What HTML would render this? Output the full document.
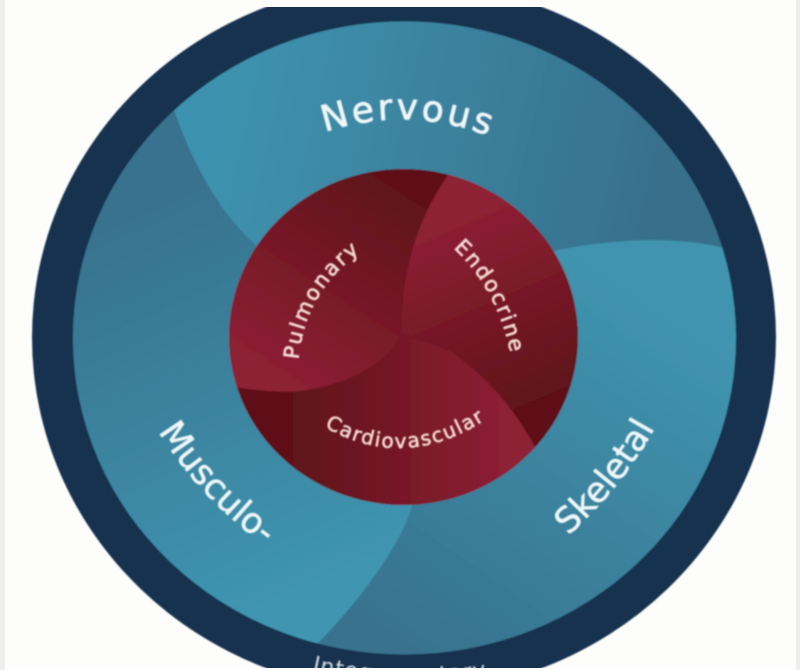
<!DOCTYPE html>
<html><head><meta charset="utf-8"><style>html,body{margin:0;padding:0;background:#fdfdfc;width:800px;height:670px;overflow:hidden}svg{display:block}</style></head>
<body>
<svg width="800" height="670" viewBox="0 0 800 670" xmlns="http://www.w3.org/2000/svg">
<defs>
<clipPath id="frame"><rect x="0" y="7" width="800" height="661"/></clipPath>
<clipPath id="redc"><ellipse cx="403.500" cy="337" rx="174.500" ry="168"/></clipPath>
<clipPath id="tealc"><ellipse cx="404.500" cy="338" rx="331.500" ry="316.500"/></clipPath>
<filter id="soft" x="-5%" y="-5%" width="110%" height="110%"><feGaussianBlur stdDeviation="0.8"/></filter>
<linearGradient id="gN" gradientUnits="userSpaceOnUse" x1="210" y1="130" x2="640" y2="230"><stop offset="0" stop-color="#3e93af"/><stop offset="1" stop-color="#37708c"/></linearGradient>
<linearGradient id="gS" gradientUnits="userSpaceOnUse" x1="640" y1="290" x2="400" y2="640"><stop offset="0" stop-color="#3f94af"/><stop offset="1" stop-color="#37728e"/></linearGradient>
<linearGradient id="gM" gradientUnits="userSpaceOnUse" x1="170" y1="200" x2="340" y2="590"><stop offset="0" stop-color="#37728e"/><stop offset="1" stop-color="#3f96b1"/></linearGradient>
<linearGradient id="gP" gradientUnits="userSpaceOnUse" x1="410" y1="195" x2="285" y2="385"><stop offset="0" stop-color="#5e1119"/><stop offset="1" stop-color="#8d2034"/></linearGradient>
<linearGradient id="gE" gradientUnits="userSpaceOnUse" x1="440" y1="225" x2="520" y2="410"><stop offset="0" stop-color="#8d2034"/><stop offset="1" stop-color="#5e1119"/></linearGradient>
<linearGradient id="gC" gradientUnits="userSpaceOnUse" x1="290" y1="420" x2="510" y2="420"><stop offset="0" stop-color="#5e1119"/><stop offset="1" stop-color="#8d2034"/></linearGradient>
<path id="tN" d="M295,144 Q408,92 520,150"/>
<path id="tM" d="M140,400 Q195,505 295,565"/>
<path id="tS" d="M535,562 Q627,496 674,390"/>
<path id="tP" d="M298,390 Q292,285 387,235"/>
<path id="tE" d="M433,232 Q503,280 515,380"/>
<path id="tC" d="M300,410 Q402,490 510,402"/>
<path id="tI" d="M270,660 Q400,700 530,668"/>
</defs>
<rect width="800" height="670" fill="#fdfdfc"/>
<rect x="0" y="0" width="5" height="670" fill="#eeeeee"/>
<rect x="796" y="0" width="4" height="670" fill="#eeeeee"/>
<g clip-path="url(#frame)">
<g filter="url(#soft)">
<ellipse cx="404" cy="337.500" rx="372" ry="356" fill="#17314f"/>
<g clip-path="url(#tealc)">
<path d="M0,0H800V670H0Z" fill="url(#gS)"/>
<path d="M174,108 C195,170 222,215 256,245 L320,400 L412,505 C405,535 370,590 317,644 L100,700 L0,500 L0,100Z" fill="url(#gM)"/>
<path d="M174,110 C195,170 222,215 256,245 L400,300 L558,250 C610,240 670,235 724,248 L800,100 L500,0 L150,0Z" fill="url(#gN)"/>
</g>
<g clip-path="url(#redc)">
<rect x="220" y="160" width="370" height="350" fill="#5e1119"/>
<path d="M448,175 C420,215 400,270 402,333 C392,360 350,385 300,391 C280,393 255,391 225,385 L200,150 L450,150Z" fill="url(#gP)"/>
<path d="M448,175 C420,215 400,270 402,333 C408,338 440,345 453,353 C490,380 515,410 535,447 L600,400 L600,150 L450,150Z" fill="url(#gE)"/>
<path d="M402,333 C408,338 440,345 453,353 C490,380 515,410 535,447 L540,520 L220,520 L225,385 C255,391 280,393 300,391 C350,385 392,360 402,333Z" fill="url(#gC)"/>
</g>
</g>
<g font-family="'DejaVu Sans','Liberation Sans',sans-serif" filter="url(#soft)" stroke-linejoin="round">
<text font-size="36" fill="#eef6f8" stroke="#eef6f8" stroke-width="0.8" letter-spacing="3"><textPath href="#tN" startOffset="50%" text-anchor="middle">Nervous</textPath></text>
<text font-size="35" fill="#eef6f8" stroke="#eef6f8" stroke-width="0.6"><textPath href="#tM" startOffset="50%" text-anchor="middle">Musculo-</textPath></text>
<text font-size="35" fill="#eef6f8" stroke="#eef6f8" stroke-width="0.6"><textPath href="#tS" startOffset="50%" text-anchor="middle">Skeletal</textPath></text>
<text font-size="21" fill="#f3d8d2" stroke="#f3d8d2" stroke-width="0.7" letter-spacing="2"><textPath href="#tP" startOffset="50%" text-anchor="middle">Pulmonary</textPath></text>
<text font-size="21" fill="#f3d8d2" stroke="#f3d8d2" stroke-width="0.7" letter-spacing="2"><textPath href="#tE" startOffset="50%" text-anchor="middle">Endocrine</textPath></text>
<text font-size="20" fill="#f3d8d2" stroke="#f3d8d2" stroke-width="0.6" letter-spacing="1.6"><textPath href="#tC" startOffset="50%" text-anchor="middle">Cardiovascular</textPath></text>
<text font-size="22" fill="#d5dbe2" letter-spacing="1"><textPath href="#tI" startOffset="50%" text-anchor="middle">Integumentary</textPath></text>
</g>
</g>
</svg>
</body></html>
